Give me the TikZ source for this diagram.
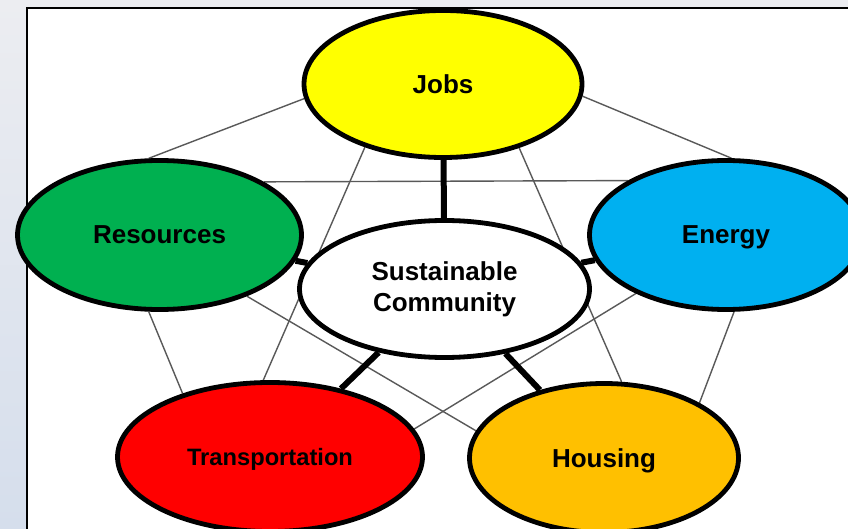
\documentclass[tikz,border=0pt]{standalone}
\usepackage{fontspec}
\setmainfont{Liberation Sans}
\usetikzlibrary{shapes.geometric,backgrounds}
\definecolor{jobsyellow}{HTML}{FFFF00}
\definecolor{resgreen}{HTML}{00B050}
\definecolor{energyblue}{HTML}{00B0F0}
\definecolor{transred}{HTML}{FF0000}
\definecolor{houseorange}{HTML}{FFC000}
\definecolor{slidegray}{HTML}{ECEDF1}
\definecolor{slideblue}{HTML}{D5DEEC}

\tikzset{
  bubble/.style={ellipse, draw=black, line width=4.8pt, inner sep=0pt,
    font=\fontsize{26}{31.3}\selectfont\bfseries},
  topic/.style={bubble, text depth=0pt},
  link/.style={draw=black!65, line width=1.4pt},
  spoke/.style={draw=black, line width=6pt},
}

\begin{document}
\begin{tikzpicture}[x=1pt,y=-1pt]
	\useasboundingbox (0,0) rectangle (848,529);

	% hub and the five topics
	\node[bubble, fill=white, align=center, minimum width=290pt, minimum height=137pt] (hub) at (444.5,289) {Sustainable\\Community};
	\node[topic, fill=jobsyellow, minimum width=278pt, minimum height=147pt] (jobs) at (443,84) {Jobs};
	\node[topic, fill=resgreen, minimum width=284pt, minimum height=149pt] (res) at (159.5,235) {Resources};
	\node[topic, fill=energyblue, minimum width=273pt, minimum height=149pt] (energy) at (726,235) {Energy};
	\node[topic, fill=transred, minimum width=305pt, minimum height=149pt, font=\fontsize{23.7}{28}\selectfont\bfseries] (trans) at (270,457) {Transportation};
	\node[topic, fill=houseorange, minimum width=269pt, minimum height=149pt] (house) at (604,458) {Housing};

	\begin{scope}[on background layer]
		% slide backdrop and frame
		\shade[top color=slidegray, bottom color=slideblue] (0,0) rectangle (27,529);
		\fill[slidegray] (27,0) rectangle (848,8);
		\draw[line width=2pt, fill=white] (27,8) rectangle (880,560);

		% thin web between the topics
		\draw[link] (jobs.186.5) -- (res.98.5);
		\draw[link] (jobs.-5.3) -- (energy.86.3);
		\draw[link] (jobs.219.2) -- (trans.95.2);
		\draw[link] (jobs.-40.6) -- (house.77);
		\draw[link] (res.27.5) -- (energy.151.9);
		\draw[link] (res.-98.5) -- (trans.144.8);
		\draw[link] (res.-35.3) -- (house.168);
		\draw[link] (energy.213.4) -- (trans.11.8);
		\draw[link] (energy.-84) -- (house.30.9);

		% thick spokes from the hub
		\draw[spoke] (hub) -- (jobs);
		\draw[spoke] (hub) -- (res);
		\draw[spoke] (hub) -- (energy);
		\draw[spoke] (hub) -- (trans);
		\draw[spoke] (hub) -- (house);
	\end{scope}
\end{tikzpicture}
\end{document}
